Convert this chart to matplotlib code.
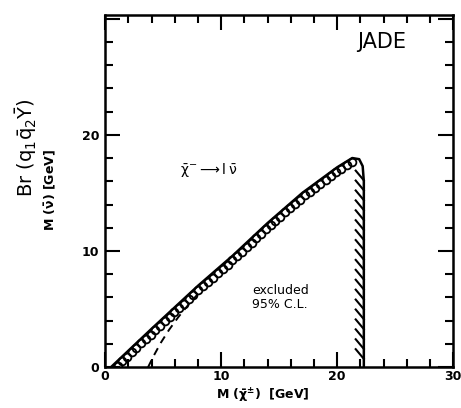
import numpy as np
import matplotlib
matplotlib.use("Agg")
import matplotlib.pyplot as plt
import matplotlib.patheffects as pe

plt.rcParams['mathtext.default'] = 'regular'

# excluded region boundary (upper/left edge, rounded top, vertical drop)
edge_x = [0.5, 4.0, 8.0, 11.0, 14.0, 17.0, 20.0, 21.3, 21.9, 22.2, 22.3, 22.3]
edge_y = [0.0, 3.3, 7.0, 9.6, 12.4, 15.0, 17.2, 18.0, 17.9, 17.3, 16.0, 0.0]
n_diag = 8  # points belonging to the sloped part

# dashed curve near the origin
dash_x = [3.7, 4.2, 4.8, 5.5, 6.3, 7.2, 8.0]
dash_y = [0.0, 1.0, 2.1, 3.2, 4.3, 5.4, 6.3]

fig = plt.figure(figsize=(4.61, 4.08), dpi=100)
ax = fig.add_axes([0.228, 0.100, 0.755, 0.863])

ax.plot(edge_x, edge_y, color='black', lw=1.8, solid_joinstyle='round')
# slanted hatching on the vertical side
ax.plot(edge_x[-2:], [16.5, 0.3], color='black', lw=0,
        path_effects=[pe.withTickedStroke(angle=-140, spacing=7, length=1.3, linewidth=1.5)])

# little loops hanging below the diagonal edge
ex = np.array(edge_x[:n_diag])
ey = np.array(edge_y[:n_diag])
seg = np.hypot(np.diff(ex), np.diff(ey))
s = np.concatenate([[0], np.cumsum(seg)])
t = np.arange(0.5, s[-1] - 0.1, 0.56)
cx = np.interp(t, s, ex)
cy = np.interp(t, s, ey)
idx = np.clip(np.searchsorted(s, t) - 1, 0, len(seg) - 1)
ang = np.arctan2(np.diff(ey)[idx], np.diff(ex)[idx])
cx = cx + 0.30 * np.sin(ang)
cy = cy - 0.30 * np.cos(ang)
ax.plot(cx, cy, 'o', ms=5.6, mfc='none', mec='black', mew=1.3)

ax.plot(dash_x, dash_y, color='black', lw=1.4, ls=(0, (4, 3)))

ax.set_xlim(0, 30)
ax.set_ylim(0, 30.3)
ax.set_xticks([0, 10, 20, 30])
ax.set_yticks([0, 10, 20, 30])
ax.set_yticklabels(['0', '10', '20', ''])
ax.set_xticks(np.arange(0, 31, 2), minor=True)
ax.set_yticks(np.arange(0, 31, 2), minor=True)
ax.tick_params(which='both', direction='in', top=True, right=True, width=1.5,
               labelsize=9)
ax.tick_params(axis='x', pad=2)
ax.tick_params(axis='y', pad=4)
ax.tick_params(which='major', length=11)
ax.tick_params(which='minor', length=6)
for lab in ax.get_xticklabels() + ax.get_yticklabels():
    lab.set_fontweight('bold')
for sp in ax.spines.values():
    sp.set_linewidth(1.8)

ax.text(23.8, 28.0, 'JADE', fontsize=15, ha='center', va='center')
ax.text(15.1, 6.0, 'excluded\n95% C.L.', fontsize=9, ha='center', va='center',
        linespacing=1.1)
ax.text(8.9, 17.0, r'$\bar{\chi}^{-}\longrightarrow l\,\bar{\nu}$', fontsize=10,
        ha='center', va='center')

fig.text(263 / 461, 1 - 396 / 408, r'M $(\bar{\chi}^{\pm})$  [GeV]', fontsize=9,
         ha='center', va='center', fontweight='bold')
fig.text(26 / 461, 1 - 148 / 408, r'Br $(q_1\bar{q}_2\bar{Y})$', fontsize=14,
         rotation=90, ha='center', va='center')
fig.text(50 / 461, 1 - 190 / 408, r'M $(\bar{\nu})$ [GeV]', fontsize=9,
         rotation=90, ha='center', va='center', fontweight='bold')

fig.savefig('out.png', dpi=100)
